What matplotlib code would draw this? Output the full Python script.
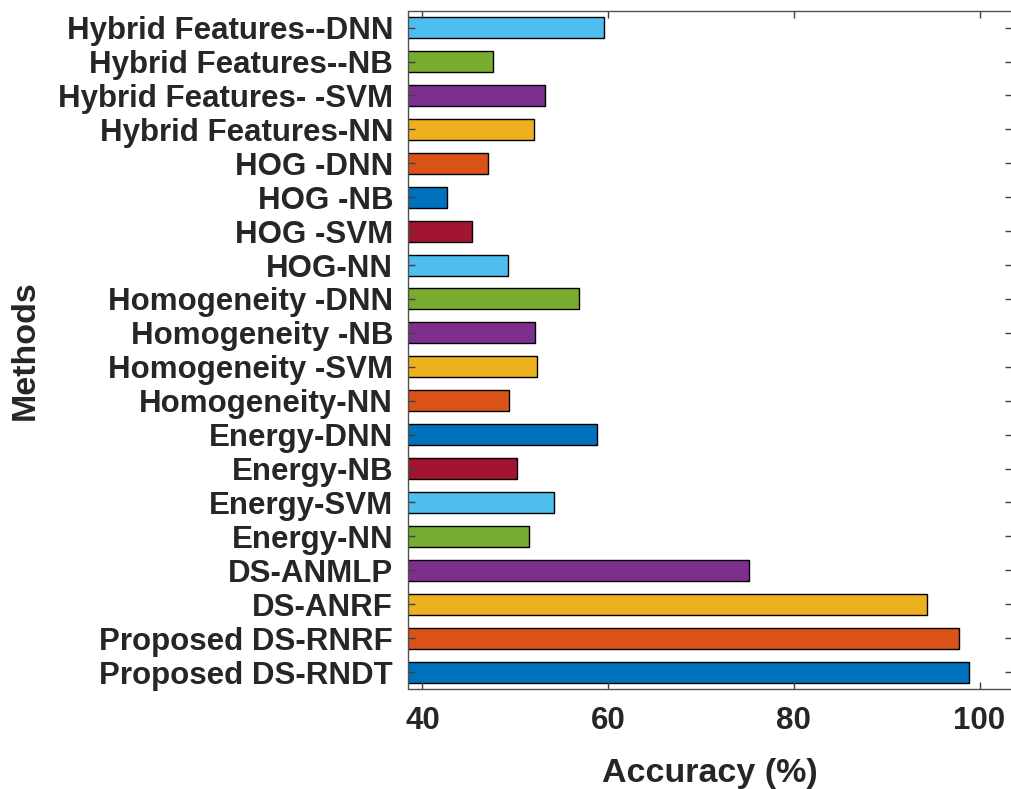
import matplotlib
matplotlib.use("Agg")
import matplotlib.pyplot as plt

# Data (bottom to top)
methods = ["Proposed DS-RNDT", "Proposed DS-RNRF", "DS-ANRF", "DS-ANMLP",
           "Energy-NN", "Energy-SVM", "Energy-NB", "Energy-DNN",
           "Homogeneity-NN", "Homogeneity -SVM", "Homogeneity -NB", "Homogeneity -DNN",
           "HOG-NN", "HOG -SVM", "HOG -NB", "HOG -DNN",
           "Hybrid Features-NN", "Hybrid Features- -SVM", "Hybrid Features--NB",
           "Hybrid Features--DNN"]
accuracy = [98.9, 97.8, 94.3, 75.2,
            51.5, 54.2, 50.2, 58.8,
            49.3, 52.3, 52.1, 56.9,
            49.2, 45.3, 42.65, 47.05,
            52.0, 53.25, 47.65, 59.6]
xticks = [40, 60, 80, 100]

palette = ["#0072BD", "#D95319", "#EDB120", "#7E2F8E", "#77AC30", "#4DBEEE", "#A2142F"]
colors = [palette[i % len(palette)] for i in range(len(methods))]

plt.rcParams['font.family'] = ['Liberation Sans', 'DejaVu Sans']
plt.rcParams['font.weight'] = 'bold'

fig = plt.figure(figsize=(10.12, 7.89), dpi=100)
ax = fig.add_axes([408.5 / 1012, 1 - 689 / 789, 1 - 408.5 / 1012, (689 - 10.7) / 789])

ypos = list(range(1, len(methods) + 1))
ax.barh(ypos, accuracy, height=0.62, color=colors, edgecolor="black", linewidth=1.0)

ax.set_xlim(38.5, 103.5)
ax.set_ylim(0.5, len(methods) + 0.5)
ax.set_xticks(xticks)
ax.set_xticklabels([str(t) for t in xticks])
ax.set_yticks(ypos)
ax.set_yticklabels(methods)

txtc = "#262626"
ax.tick_params(axis='both', direction='in', length=5, width=1, colors="#404040",
               labelcolor=txtc, labelsize=22.5)
ax.tick_params(axis='y', pad=11, right=True)
ax.tick_params(axis='x', pad=12, top=True)
for lbl in ax.get_xticklabels() + ax.get_yticklabels():
    lbl.set_fontweight('bold')

for s in ax.spines.values():
    s.set_color("#505050")
    s.set_linewidth(1.0)

ax.set_xlabel("Accuracy (%)", fontsize=24.5, fontweight='bold', color=txtc, labelpad=16)
fig.text(25 / 1012, 1 - 350 / 789, "Methods", rotation=90, ha='center', va='center',
         fontsize=24.5, fontweight='bold', color=txtc)

fig.savefig("out.png", dpi=100)
